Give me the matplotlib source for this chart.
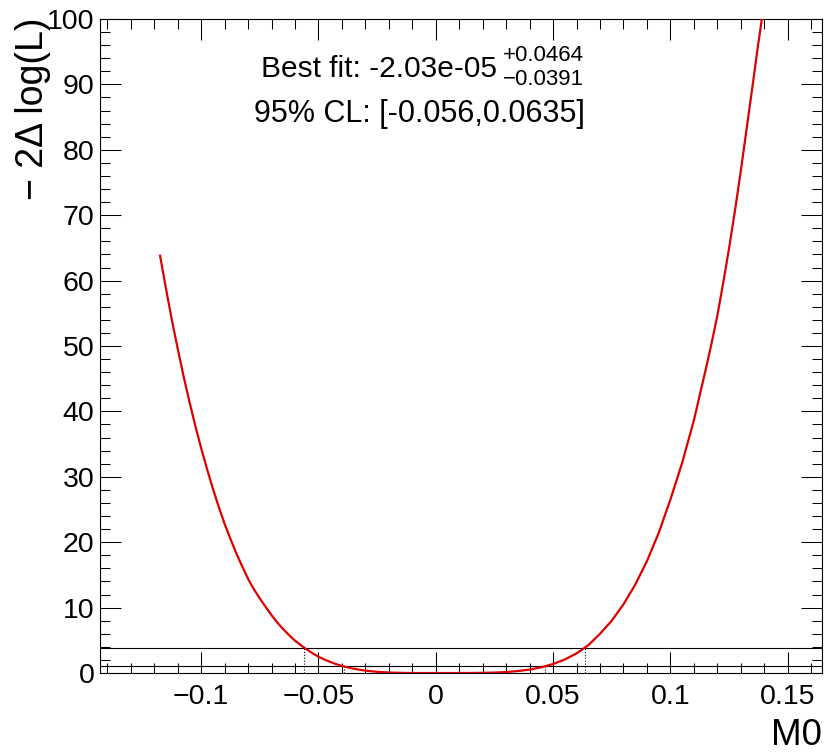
import numpy as np
import matplotlib
matplotlib.use("Agg")
import matplotlib.pyplot as plt
from matplotlib.ticker import MultipleLocator, FuncFormatter

plt.rcParams['font.family'] = ['Liberation Sans', 'DejaVu Sans']

# likelihood scan (M0, -2 delta log L)
m0 = [-0.1175, -0.1150, -0.1125, -0.1100, -0.1075, -0.1050, -0.1025, -0.1000,
      -0.0975, -0.0950, -0.0925, -0.0900, -0.0875, -0.0850, -0.0825, -0.0800,
      -0.0775, -0.0750, -0.0725, -0.0700, -0.0675, -0.0650, -0.0625, -0.0600,
      -0.0575, -0.0550, -0.0525, -0.0500, -0.0475, -0.0450, -0.0425, -0.0400,
      -0.0375, -0.0350, -0.0325, -0.0300, -0.0275, -0.0250, -0.0225, -0.0200,
      -0.0175, -0.0150, -0.0125, -0.0100, 0.0000, 0.0100, 0.0150, 0.0200,
      0.0250, 0.0300, 0.0350, 0.0400, 0.0450, 0.0500, 0.0550, 0.0600,
      0.0650, 0.0700, 0.0750, 0.0800, 0.0850, 0.0900, 0.0950, 0.1000,
      0.1050, 0.1100, 0.1150, 0.1175, 0.1200, 0.1225, 0.1250, 0.1275,
      0.1300, 0.1325, 0.1350, 0.1375, 0.1390]
nll = [63.8, 58.8, 54.0, 49.6, 45.4, 41.5, 37.8, 34.4,
       31.2, 28.2, 25.4, 22.8, 20.5, 18.3, 16.3, 14.4,
       12.8, 11.4, 10.1, 8.85, 7.7, 6.7, 5.8, 4.95,
       4.25, 3.6, 3.02, 2.5, 2.07, 1.7, 1.37, 1.09,
       0.86, 0.66, 0.5, 0.37, 0.27, 0.19, 0.13, 0.08,
       0.05, 0.03, 0.01, 0.0, 0.0, 0.0, 0.01, 0.03,
       0.07, 0.15, 0.3, 0.53, 0.88, 1.38, 2.07, 3.0,
       4.25, 6.0, 8.0, 10.5, 13.5, 17.1, 21.4, 26.5,
       32.1, 38.6, 46.3, 50.3, 54.6, 59.6, 64.9, 70.6,
       76.7, 83.2, 89.7, 96.3, 100.0]

best = -2.03e-05
err_up, err_dn = 0.0464, 0.0391
cl95 = [-0.056, 0.0635]
cl68 = [best - err_dn, best + err_up]
lvl95, lvl68 = 3.84, 1.0

W, H = 824, 753
fig = plt.figure(figsize=(W / 100, H / 100), dpi=100)
ax = fig.add_axes([0.1214, 0.1062, 0.8758, 0.8686])

ax.plot(m0, nll, color='#dd0000', lw=1.6, zorder=3)

ax.axhline(lvl95, color='black', lw=0.8)
ax.axhline(lvl68, color='black', lw=0.8)
for x in cl95:
    ax.plot([x, x], [0, lvl95], color='black', lw=0.8, ls=':')
for x in cl68:
    ax.plot([x, x], [0, lvl68], color='black', lw=0.8, ls=':')

ax.set_xlim(-0.1431, 0.1645)
ax.set_ylim(0, 100)

ax.xaxis.set_major_locator(MultipleLocator(0.05))
ax.xaxis.set_minor_locator(MultipleLocator(0.01))
ax.yaxis.set_major_locator(MultipleLocator(10))
ax.yaxis.set_minor_locator(MultipleLocator(2))
ax.xaxis.set_major_formatter(FuncFormatter(
    lambda v, p: ('%g' % round(v, 4)).replace('-', '\u2212')))
ax.yaxis.set_major_formatter(FuncFormatter(lambda v, p: '%g' % v))

ax.tick_params(which='both', direction='in', top=True, right=True,
               width=0.75, color='black')
ax.tick_params(which='major', length=15, labelsize=20.5)
ax.tick_params(which='minor', length=7.5)
ax.tick_params(axis='x', which='major', pad=8)
ax.tick_params(axis='y', which='major', pad=4)
for s in ax.spines.values():
    s.set_linewidth(0.8)

fig.text(821.7 / W, 1 - 745 / H, 'M0', ha='right', va='baseline', fontsize=26.5)
fig.text(33 / W, 1 - 18 / H, '\u2212 2\u0394 log(L)', rotation=90,
         ha='center', va='top', fontsize=27)

main = fig.text(261 / W, 1 - 77 / H, 'Best fit: %.3g' % best,
                ha='left', va='baseline', fontsize=21.5)
fig.canvas.draw()
x_end = main.get_window_extent().x1 + 6
fig.text(x_end / W, 1 - 61 / H, '+%g' % err_up, ha='left', va='baseline',
         fontsize=16)
fig.text(x_end / W, 1 - 85 / H, '\u2212%g' % err_dn, ha='left', va='baseline',
         fontsize=16)
fig.text(254 / W, 1 - 122 / H, '95%% CL: [%g,%g]' % (cl95[0], cl95[1]),
         ha='left', va='baseline', fontsize=22)

fig.savefig('out.png', dpi=100)
